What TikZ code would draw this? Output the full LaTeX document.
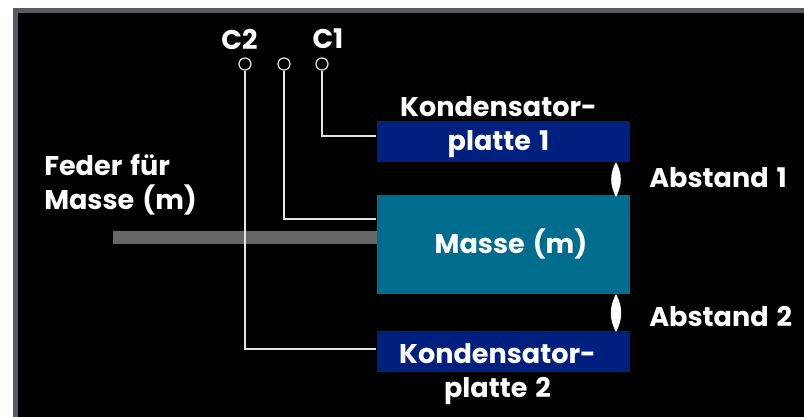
\documentclass[tikz,border=0pt]{standalone}
\usepackage{fontspec}
\setmainfont[WordSpace=1.4]{Poppins}
\definecolor{rahmen}{HTML}{565B60}
\definecolor{platte}{HTML}{002080}
\definecolor{masse}{HTML}{006C8E}
\definecolor{feder}{HTML}{666666}
\definecolor{linie}{HTML}{E4E4E4}
\tikzset{
  beschr/.style={text=white, font=\fontsize{20.3}{25.5}\selectfont\bfseries, align=center, inner sep=0pt},
  plattebox/.style={fill=platte, minimum width=190.1pt, minimum height=30.75pt, inner sep=0pt},
  massebox/.style={fill=masse, minimum width=190.1pt, minimum height=74.25pt, inner sep=0pt},
  klemme/.style={circle, draw=linie, line width=0.9pt, minimum size=9pt, inner sep=0pt},
  leitung/.style={draw=linie, line width=0.9pt},
  spalt/.style={fill=white}
}
\begin{document}
\begin{tikzpicture}[x=0.75pt, y=-0.75pt]
  \useasboundingbox (0,0) rectangle (804,417);
  % Rahmen und Hintergrund
  \fill[white] (0,0) rectangle (804,417);
  \fill[rahmen] (13,8) rectangle (804,417);
  \fill[black] (18,13) rectangle (804,417);
  % Feder
  \node[fill=feder, minimum width=198pt, minimum height=9.75pt, inner sep=0pt] (feder) at (245,237.5) {};
  % Platten und Masse
  \node[plattebox] (platte1) at (503.25,141.5) {};
  \node[massebox] (masse) at (503.25,244.5) {};
  \node[plattebox] (platte2) at (503.25,351) {};
  % Klemmen
  \node[klemme] (c2) at (245,64) {};
  \node[klemme] (cm) at (284,64) {};
  \node[klemme] (c1) at (322,64) {};
  \node[beschr] (c2text) at (239.5,39) {C2};
  \node[beschr] (c1text) at (328,39) {C1};
  % Leitungen
  \coordinate (e1) at (376,136);
  \coordinate (em) at (376,219);
  \coordinate (e2) at (376,349);
  \draw[leitung] (c1) |- (e1);
  \draw[leitung] (cm) |- (em);
  \draw[leitung] (c2) |- (e2);
  % Abstaende
  \coordinate (a1o) at (616,162);
  \coordinate (a1u) at (616,197);
  \coordinate (a2o) at (616,294);
  \coordinate (a2u) at (616,332);
  \fill[spalt] (a1o) to[bend left=28] (a1u) to[bend left=28] (a1o);
  \fill[spalt] (a2o) to[bend left=28] (a2u) to[bend left=28] (a2o);
  % Texte
  \node[beschr] (ptext1) at (498.5,127) {Kondensator-\\platte 1};
  \node[beschr] (ptext2) at (497.5,374) {Kondensator-\\platte 2};
  \node[beschr] (mtext) at (511,244) {Masse (m)};
  \node[beschr, align=left, anchor=west] (ftext) at (44,185) {Feder für\\Masse (m)};
  \node[beschr, anchor=west] (abst1) at (649,178) {Abstand 1};
  \node[beschr, anchor=west] (abst2) at (649,317) {Abstand 2};
\end{tikzpicture}
\end{document}
